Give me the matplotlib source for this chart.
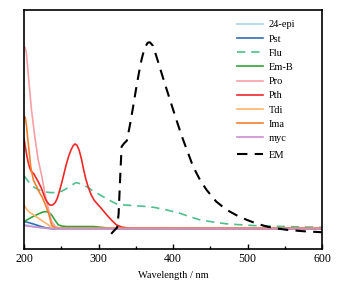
import matplotlib
matplotlib.use("Agg")
import matplotlib.pyplot as plt
from matplotlib.ticker import MultipleLocator

plt.rcParams["font.family"] = ["Liberation Serif", "DejaVu Serif"]

# --- data (arbitrary absorbance / intensity units) ---
wl_epi = [200, 210, 220, 230, 240, 260, 600]
y_epi = [4.0, 2.5, 1.2, 0.2, -0.5, -0.5, -0.3]

wl_pst = [200, 206, 212, 219, 226, 232, 236, 260, 600]
y_pst = [7.0, 6.0, 4.7, 3.0, 1.3, 0.4, 0.0, 0.0, 0.0]

wl_flu = [200, 206, 212, 219, 226, 235, 244, 251, 257, 264, 270, 277, 284, 292,
          302, 313, 324, 335, 347, 360, 374, 391, 409, 422, 436, 454, 472, 490,
          508, 540, 570, 600]
y_flu = [52.7, 47.0, 42.0, 39.0, 37.0, 36.0, 36.0, 37.5, 40.0, 43.5, 46.0, 44.5,
         42.0, 38.0, 33.7, 29.0, 24.7, 23.5, 23.0, 22.3, 21.3, 18.7, 15.3, 12.0,
         8.7, 6.5, 4.7, 3.8, 3.0, 2.2, 1.6, 1.3]

wl_emb = [200, 206, 212, 219, 226, 230, 234, 237, 241, 246, 251, 257, 275, 293, 311, 330, 600]
y_emb = [7.0, 9.5, 12.0, 14.5, 16.7, 17.0, 15.8, 13.7, 9.0, 3.7, 2.5, 2.0, 2.0, 2.0, 0.7, 0.0, 0.0]

wl_pro = [200, 201.5, 203, 206, 210, 215, 219, 224, 228, 233, 237, 242, 248, 600]
y_pro = [182, 181, 177, 152, 119, 89, 69, 52, 35, 18.7, 7.0, 2.0, 0.3, 0.0]

wl_pth = [200, 202, 204, 206, 208, 210, 213, 216, 219, 223, 226, 229, 233, 235,
          237, 239, 242, 245, 248, 251, 254, 257, 260, 263, 266, 268.5, 271, 274,
          277, 280, 283, 286, 290, 294, 298, 304, 311, 318, 324, 331, 338, 345, 600]
y_pth = [90, 81, 72, 65, 60, 57, 55, 51, 47, 41, 35, 29, 24.7, 23.6, 23.3, 24.0,
         26.0, 31.0, 38.7, 47.0, 56.0, 65.0, 72.5, 78.5, 83.0, 84.7, 83.5, 78.5,
         70.0, 59.0, 49.5, 42.0, 34.0, 28.5, 25.0, 20.0, 13.7, 8.0, 3.7, 1.5, 0.7, 0.2, 0.0]

wl_tdi = [200, 204, 208, 213, 219, 226, 232, 237, 242, 600]
y_tdi = [23.7, 18.7, 16.0, 13.7, 10.5, 7.0, 4.0, 1.3, 0.0, 0.0]

wl_ima = [200, 201, 202, 203.5, 205, 206.5, 209, 212.5, 217, 220, 224, 228, 233, 237, 242, 600]
y_ima = [110, 112, 110, 102, 90, 80, 62, 48.7, 42, 37, 32, 25.3, 15.3, 3.7, 0.3, 0.0]

wl_myc = [200, 215, 235, 600]
y_myc = [3.0, 1.5, 0.0, 0.0]

wl_em = [317, 321, 325, 327, 329, 331, 334, 338, 342, 346, 350, 354, 358, 362,
         366, 369, 373, 377, 382, 389, 396, 404, 412, 420, 427, 436, 445, 458,
         472, 486, 499, 512, 526, 540, 553, 575, 600]
y_em = [-5.3, -2.0, 1.0, 15.0, 50.0, 82.0, 85.0, 88.0, 103.0, 120.0, 138.0, 155.0,
        170.0, 181.0, 186.0, 186.5, 183.0, 174.0, 162.0, 145.0, 128.7, 110.0,
        92.0, 76.0, 62.0, 49.0, 38.7, 27.0, 18.7, 13.0, 8.7, 5.0, 2.0, 0.0,
        -1.3, -2.7, -3.7]

labels = ["24-epi", "Pst", "Flu", "Em-B", "Pro", "Pth", "Tdi", "Ima", "myc"]
colors = ["#a9d3ee", "#2f6fb2", "#4fc08d", "#33a33a", "#f7a0a4", "#f02828",
          "#ffb46e", "#f27f2f", "#cc8fcf"]

fig = plt.figure(figsize=(3.41, 2.89), dpi=100)
ax = fig.add_axes([0.0704, 0.138, 0.874, 0.827])

series = [(wl_epi, y_epi), (wl_pst, y_pst), (wl_flu, y_flu), (wl_emb, y_emb),
          (wl_pro, y_pro), (wl_pth, y_pth), (wl_tdi, y_tdi), (wl_ima, y_ima),
          (wl_myc, y_myc)]

handles = []
for (x, y), lab, col in zip(series, labels, colors):
    ls = (0, (5, 3.5)) if lab == "Flu" else "-"
    h, = ax.plot(x, y, color=col, lw=1.2, ls=ls, label=lab)
    handles.append(h)

em, = ax.plot(wl_em, y_em, color="black", lw=1.5, ls=(0, (5, 3.5)), label="EM")

ax.set_xlim(200, 600)
ax.set_ylim(-20.6, 218.7)
ax.xaxis.set_major_locator(MultipleLocator(100))
ax.xaxis.set_minor_locator(MultipleLocator(50))
ax.tick_params(axis="x", which="major", direction="in", length=3.5, width=1.0,
               labelsize=8.5, pad=3)
ax.tick_params(axis="x", which="minor", direction="in", length=2.0, width=1.0)
ax.tick_params(axis="y", left=False, labelleft=False)
for sp in ax.spines.values():
    sp.set_linewidth(1.2)
ax.set_xlabel("Wavelength / nm", fontsize=7.5, labelpad=4)

leg_kw = dict(loc="upper left", frameon=False, fontsize=7.5, handlelength=2.5,
              handletextpad=0.55, borderaxespad=0, borderpad=0)
leg1 = ax.legend(handles=handles, bbox_to_anchor=(0.715, 0.958),
                 labelspacing=0.47, **leg_kw)
ax.add_artist(leg1)
ax.legend(handles=[em], bbox_to_anchor=(0.715, 0.412), **leg_kw)

fig.savefig("out.png", dpi=100)
